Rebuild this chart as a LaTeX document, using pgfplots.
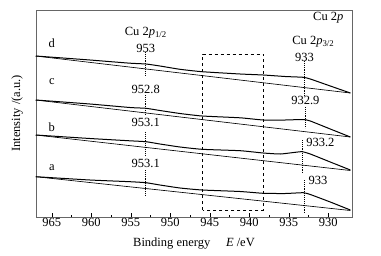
\documentclass[border=0pt]{standalone}
\usepackage{fontspec}
\setmainfont{Liberation Serif}
\usepackage{pgfplots}
\pgfplotsset{compat=1.18}
\begin{document}
\fontsize{12.5}{15}\selectfont
\begin{tikzpicture}
\begin{axis}[
 width=316pt,height=207pt,scale only axis,
 xmin=927,xmax=967,ymin=0,ymax=207,x dir=reverse,
 xtick={930,935,...,965}, minor x tick num=1,
 ytick=\empty, xtick pos=bottom, tick align=inside,
 major tick length=4pt, minor tick length=2pt,
 axis line style={black!60, line width=0.6pt},
 every tick/.style={black, line width=0.5pt},
 /pgf/number format/assume math mode=true,
 xticklabel style={inner sep=1pt},
 xlabel={Binding energy\quad\ \textit{E} /eV},
 ylabel={Intensity /(a.u.)},
 xlabel style={at={(axis description cs:0.5,-0.126)},anchor=center},
 ylabel style={at={(axis description cs:-0.06,0.5)},anchor=center},
 clip=false,
 spec/.style={black, line width=1.0pt, smooth, tension=0.3},
 bg/.style={black, line width=0.65pt},
 vl/.style={black, line width=1.1pt, densely dotted},
]
% spectrum d
\addplot[spec] coordinates {(967.03,161) (960.18,157) (955.11,153.8) (953.08,153) (951.31,151) (948.77,147.7) (945.98,145.3) (941.16,143) (938.24,142) (935.45,140.5) (933.17,139.7) (932.28,138) (929.75,131) (927.21,124)};
\addplot[bg] coordinates {(967.03,161) (927.21,124)};
% spectrum c
\addplot[spec] coordinates {(967.03,117) (960.18,113) (955.11,109.5) (953.08,108.7) (951.31,106.5) (948.77,103.5) (945.98,101) (941.16,99.2) (938.24,97) (935.45,97) (933.17,97.5) (932.28,96) (929.75,88) (927.21,80)};
\addplot[bg] coordinates {(967.03,117) (927.21,80)};
% spectrum b
\addplot[spec] coordinates {(967.03,82) (960.18,78.5) (955.11,76.2) (953.08,75.3) (951.31,73) (948.77,70) (945.98,67.7) (941.16,66.3) (938.24,64) (936.09,63) (934.18,64.7) (933.3,65.3) (932.28,63) (929.75,55) (927.21,47)};
\addplot[bg] coordinates {(967.03,82) (927.21,46.5)};
% spectrum a
\addplot[spec] coordinates {(967.03,40.3) (960.18,37) (955.11,35.3) (953.08,34.3) (951.31,32) (948.77,29) (945.98,27) (941.16,25.5) (938.24,23.7) (935.45,23.5) (933.17,24.3) (932.28,22.5) (929.75,15) (927.21,7)};
\addplot[bg] coordinates {(967.03,40.3) (927.21,6.5)};
% dashed box
\addplot[black, line width=0.9pt, dashed] coordinates {(945.9,7) (945.9,163) (938.2,163) (938.2,7) (945.9,7)};
% vertical dotted lines
\addplot[vl] coordinates {(953.1,165) (953.1,141)};
\addplot[vl] coordinates {(953.1,122) (953.1,102)};
\addplot[vl] coordinates {(953.1,85) (953.1,60)};
\addplot[vl] coordinates {(953.1,47) (953.1,20)};
\addplot[vl] coordinates {(933.0,156) (933.0,122)};
\addplot[vl] coordinates {(932.9,110) (932.9,89)};
\addplot[vl] coordinates {(933.3,77) (933.3,44)};
\addplot[vl] coordinates {(933.0,37) (933.0,5)};
% labels
\node at (axis cs:953.1,184) {Cu 2\textit{p}\textsubscript{1/2}};
\node at (axis cs:953.1,169) {953};
\node at (axis cs:953.1,128) {952.8};
\node at (axis cs:953.1,95) {953.1};
\node at (axis cs:953.1,54) {953.1};
\node at (axis cs:931.9,175) {Cu 2\textit{p}\textsubscript{3/2}};
\node at (axis cs:933.0,160) {933};
\node at (axis cs:932.9,117) {932.9};
\node at (axis cs:931.0,75) {933.2};
\node at (axis cs:931.3,37) {933};
\node at (axis cs:930.0,199) {Cu 2\textit{p}};
\node at (axis cs:965,174) {d};
\node at (axis cs:965,135) {c};
\node at (axis cs:965,90) {b};
\node at (axis cs:965,49) {a};
\end{axis}
\pgfresetboundingbox
\path ([xshift=-36pt,yshift=-38pt]current axis.south west) rectangle ([xshift=29pt,yshift=10pt]current axis.north east);
\end{tikzpicture}
\end{document}
